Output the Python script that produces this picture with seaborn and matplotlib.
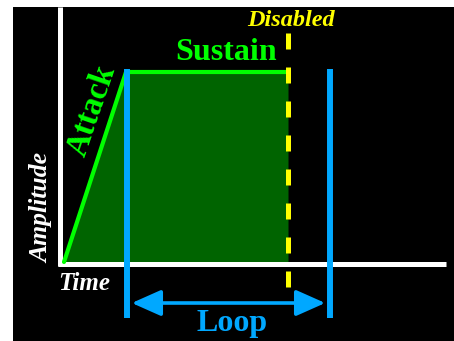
import matplotlib
matplotlib.use("Agg")
import matplotlib.pyplot as plt
import seaborn as sns
import pandas as pd
from matplotlib.patches import FancyArrowPatch

# ---- data (time / amplitude units) ----
env_time = [4, 66, 228]          # attack start, attack end, sustain end
env_amp = [2, 192, 192]
loop_start, loop_end = 67, 270
disabled_time = 228
axis_len_t = 386
axis_len_a = 257

labels = {"disabled": "Disabled", "sustain": "Sustain", "attack": "Attack",
          "loop": "Loop", "time": "Time", "amplitude": "Amplitude"}

GREEN = "#00ff00"
FILL = "#006400"
BLUE = "#00a8ff"
YELLOW = "#ffff00"

sns.set_theme(style="dark")
plt.rcParams["font.family"] = ["Liberation Serif", "DejaVu Serif"]

fig = plt.figure(figsize=(4.54, 3.41), dpi=100, facecolor="white")
ax = fig.add_axes([13 / 454, 0, 441 / 454, 334 / 341])
ax.set_facecolor("black")
ax.set_xlim(-47, 394)
ax.set_ylim(-77, 257)
ax.axis("off")
ax.add_patch(plt.Rectangle((0, 0), 1, 1, transform=ax.transAxes, color="black", zorder=0))

# filled envelope
ax.fill_between(env_time, 0, env_amp, color=FILL, lw=0, zorder=1)

# axes
ax.plot([0, 0], [-2, axis_len_a], color="white", lw=3.6, solid_capstyle="butt", zorder=2)
ax.plot([-2, axis_len_t], [0, 0], color="white", lw=3.6, solid_capstyle="butt", zorder=2)

# envelope line
df = pd.DataFrame({"t": env_time, "a": env_amp})
sns.lineplot(data=df, x="t", y="a", ax=ax, color=GREEN, lw=3.0, zorder=3)

# disabled dashed line
ax.plot([disabled_time, disabled_time], [231, -23], color=YELLOW, lw=3.6,
        dashes=(3.2, 3.6), solid_capstyle="butt", dash_capstyle="butt", zorder=4)

# loop markers
for t in (loop_start, loop_end):
    ax.plot([t, t], [195, -54], color=BLUE, lw=4.3, solid_capstyle="butt", zorder=5)

arr = FancyArrowPatch((loop_start + 2, -39), (loop_end - 2, -39),
                      arrowstyle="<|-|>,head_length=18,head_width=8",
                      mutation_scale=1, lw=2.6, color=BLUE, zorder=5)
ax.add_patch(arr)

# texts
ax.text(231, 244, labels["disabled"], color=YELLOW, fontsize=17.5, fontweight="bold",
        fontstyle="italic", ha="center", va="center")
ax.text(166, 212, labels["sustain"], color=GREEN, fontsize=23, fontweight="bold",
        ha="center", va="center")
ax.text(32, 153, labels["attack"], color=GREEN, fontsize=23.5, fontweight="bold",
        ha="center", va="center", rotation=71, rotation_mode="anchor")
ax.text(172, -59, labels["loop"], color=BLUE, fontsize=23, fontweight="bold",
        ha="center", va="center")
ax.text(24, -19, labels["time"], color="white", fontsize=18, fontweight="bold",
        fontstyle="italic", ha="center", va="center")
ax.text(-18, 56, labels["amplitude"], color="white", fontsize=18.5, fontweight="bold",
        fontstyle="italic", ha="center", va="center", rotation=90)

fig.savefig("out.png", dpi=100, facecolor="white")
